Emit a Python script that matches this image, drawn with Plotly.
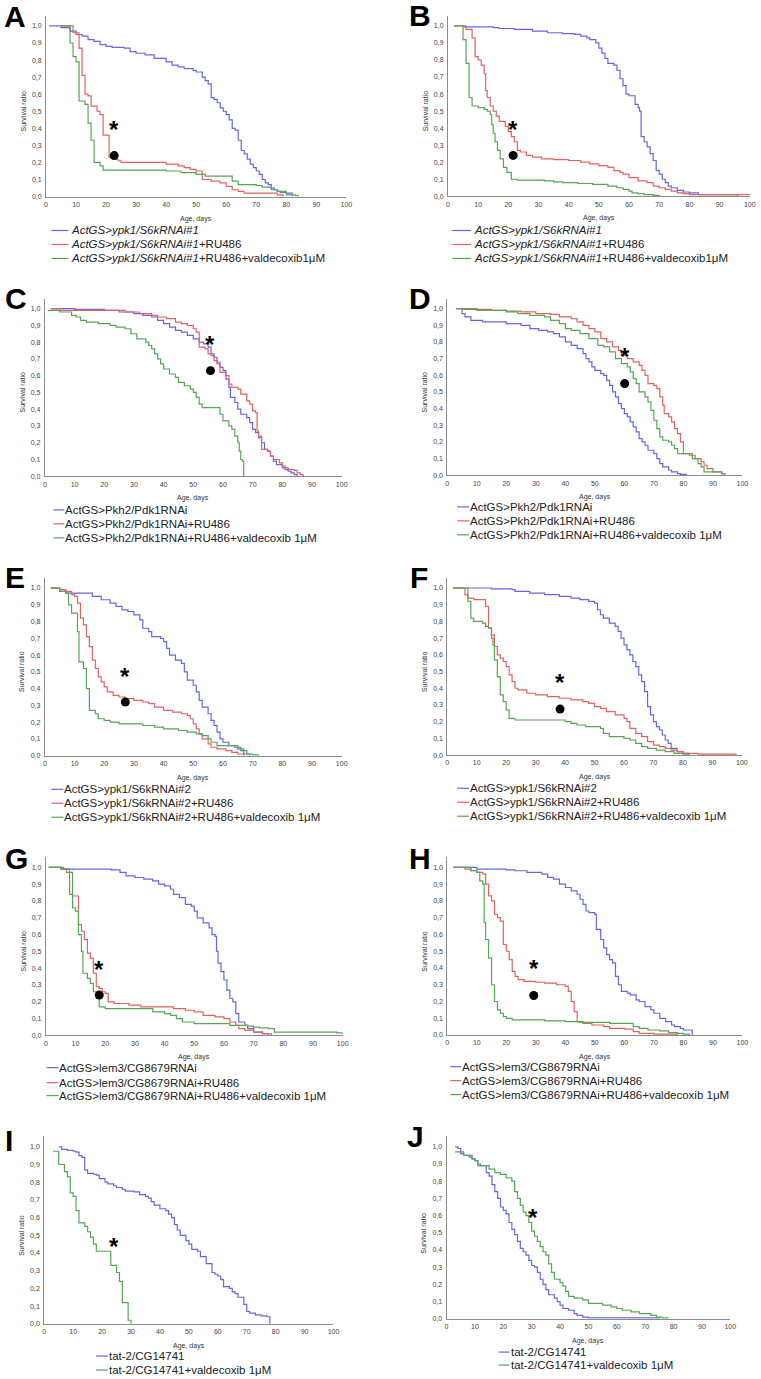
import plotly.graph_objects as go

W, H = 761, 1379
FONT = "Liberation Sans, Arial, sans-serif"
BLUE = "#6666e4"
RED = "#e46262"
GREEN = "#56a656"

# ---------------- data: (day, survival ratio) step points ----------------
A_ctrl = [(1,1.0),(5,0.99),(8,0.97),(10,0.95),(12,0.94),(14,0.92),(16,0.91),(18,0.89),(20,0.88),(22,0.875),(26,0.87),(28,0.85),(30,0.84),(33,0.83),(36,0.81),(40,0.79),(42,0.77),(44,0.76),(46,0.75),(49,0.74),(50,0.73),(52,0.70),(53,0.68),(54,0.66),(55,0.58),(56,0.57),(57,0.55),(58,0.52),(59,0.50),(60,0.48),(61,0.45),(62,0.40),(63,0.39),(64,0.33),(65,0.27),(66,0.25),(67,0.22),(68,0.19),(69,0.17),(70,0.15),(71,0.13),(72,0.10),(73,0.08),(74,0.07),(75,0.05),(76,0.04),(77,0.03),(78,0.025),(80,0.02),(82,0.0)]
A_ru = [(5,1.0),(9,0.96),(11,0.87),(12,0.71),(13,0.60),(14,0.59),(15,0.53),(17,0.50),(18,0.48),(19,0.36),(21,0.23),(23,0.22),(24,0.21),(25,0.20),(35,0.20),(40,0.19),(44,0.18),(46,0.17),(48,0.16),(50,0.15),(52,0.10),(55,0.09),(58,0.08),(60,0.06),(62,0.04),(64,0.03),(66,0.02),(77,0.01),(79,0.0)]
A_vald = [(5,1.0),(8,0.90),(9,0.82),(10,0.79),(11,0.56),(13,0.54),(14,0.43),(15,0.33),(16,0.20),(18,0.18),(19,0.155),(40,0.15),(45,0.14),(50,0.13),(53,0.12),(62,0.09),(64,0.07),(70,0.065),(72,0.055),(75,0.04),(77,0.03),(80,0.01),(83,0.005),(84,0.0)]

B_ctrl = [(5,0.995),(15,0.99),(17,0.985),(22,0.98),(28,0.97),(33,0.96),(38,0.955),(42,0.95),(44,0.94),(46,0.93),(47,0.92),(49,0.90),(50,0.87),(51,0.84),(52,0.81),(53,0.78),(55,0.77),(56,0.74),(57,0.69),(58,0.65),(59,0.60),(60,0.59),(62,0.54),(63,0.52),(63.5,0.50),(64,0.35),(65,0.32),(66,0.29),(67,0.25),(68,0.21),(69,0.15),(70,0.13),(71,0.10),(72,0.08),(73,0.06),(74,0.05),(76,0.035),(78,0.025),(80,0.02),(83,0.01),(96,0.0)]
B_ru = [(2,1.0),(6,0.98),(8,0.93),(9,0.82),(10,0.80),(11,0.77),(12,0.72),(12.5,0.62),(13,0.58),(14,0.53),(15,0.50),(16,0.47),(17,0.44),(19,0.41),(20,0.38),(21,0.35),(22,0.32),(23,0.27),(24,0.26),(26,0.24),(28,0.23),(31,0.22),(35,0.215),(40,0.21),(44,0.20),(47,0.19),(50,0.18),(53,0.17),(55,0.15),(57,0.14),(58,0.13),(60,0.11),(63,0.09),(66,0.08),(68,0.06),(70,0.05),(72,0.04),(74,0.03),(76,0.02),(78,0.015),(80,0.01),(100,0.01)]
B_vald = [(2,1.0),(5,0.92),(6,0.78),(7,0.58),(8,0.53),(10,0.52),(12,0.51),(13,0.50),(14,0.48),(14.5,0.42),(15,0.37),(15.6,0.32),(16.4,0.27),(17.3,0.22),(18.4,0.17),(19.5,0.14),(21,0.10),(23,0.095),(30,0.095),(32,0.09),(35,0.085),(38,0.08),(43,0.075),(48,0.07),(53,0.06),(56,0.05),(58,0.04),(60,0.03),(61,0.02),(63,0.015),(65,0.01),(68,0.005),(70,0.0)]

C_ctrl = [(2,1.0),(10,0.995),(20,0.99),(25,0.98),(30,0.97),(33,0.96),(36,0.95),(38,0.93),(40,0.91),(42,0.89),(44,0.87),(46,0.86),(48,0.84),(50,0.82),(52,0.80),(53.5,0.79),(55,0.77),(56,0.73),(57,0.71),(58,0.68),(59,0.65),(60,0.63),(61,0.58),(62,0.53),(62.5,0.47),(64,0.44),(65,0.40),(66,0.37),(68,0.35),(69,0.32),(70,0.28),(71,0.26),(72,0.23),(73,0.20),(74,0.16),(75,0.15),(76,0.12),(77,0.09),(78,0.07),(80,0.05),(81,0.04),(82,0.03),(83,0.02),(84,0.01),(85,0.0)]
C_ru = [(2,1.0),(5,0.99),(20,0.99),(27,0.98),(32,0.97),(36,0.96),(38,0.95),(41,0.94),(44,0.92),(46,0.91),(48,0.90),(50,0.88),(51,0.86),(52,0.77),(54,0.76),(55,0.73),(56,0.72),(57,0.69),(58,0.67),(59,0.62),(61,0.60),(62,0.55),(63,0.53),(65,0.52),(66,0.49),(68,0.45),(69,0.43),(70,0.39),(71,0.38),(71.5,0.27),(72,0.24),(73,0.16),(75,0.15),(76,0.12),(77,0.10),(79,0.08),(80,0.06),(81,0.05),(82,0.04),(84,0.035),(85,0.02),(86,0.01),(87,0.0)]
C_vald = [(1,0.99),(5,0.98),(9,0.96),(10.5,0.95),(12,0.93),(14,0.92),(18,0.91),(22,0.90),(24,0.89),(27,0.88),(29,0.85),(31,0.82),(34,0.80),(35,0.78),(36,0.76),(37,0.73),(38,0.70),(39,0.67),(40,0.64),(42,0.61),(44,0.59),(45,0.56),(47,0.54),(49,0.52),(50,0.50),(51,0.47),(52,0.43),(53,0.41),(59,0.37),(60,0.33),(62,0.30),(63,0.28),(64,0.24),(65,0.20),(65.5,0.15),(66,0.10),(66.5,0.09),(67,0.0)]

D_ctrl = [(3,1.0),(5,0.97),(6,0.95),(8,0.93),(12,0.92),(20,0.91),(25,0.90),(28,0.88),(31,0.87),(34,0.86),(36,0.85),(38,0.83),(40,0.80),(42,0.78),(44,0.76),(46,0.73),(47,0.70),(48,0.68),(49,0.65),(50,0.63),(52,0.61),(53,0.60),(54,0.57),(55,0.54),(56,0.50),(57,0.47),(58,0.43),(59,0.40),(60,0.37),(61,0.35),(62,0.32),(63,0.29),(64,0.26),(65,0.22),(66,0.20),(67,0.18),(68,0.15),(70,0.13),(71,0.10),(72,0.07),(73,0.05),(75,0.03),(76,0.02),(78,0.01),(79,0.005),(81,0.0)]
D_ru = [(3,1.0),(5,0.995),(15,0.99),(20,0.985),(25,0.98),(30,0.97),(35,0.965),(38,0.95),(42,0.94),(44,0.92),(46,0.90),(48,0.88),(50,0.86),(52,0.82),(54,0.80),(56,0.77),(58,0.75),(59,0.72),(61,0.70),(63,0.68),(65,0.66),(66,0.63),(67,0.60),(68,0.55),(70,0.54),(71,0.52),(72,0.47),(73,0.42),(73.5,0.37),(75,0.35),(76,0.32),(77,0.28),(78,0.25),(79,0.20),(80,0.13),(82,0.12),(84,0.10),(86,0.08),(87,0.06),(88,0.04),(90,0.02),(93,0.01),(94,0.0)]
D_vald = [(3,1.0),(10,0.99),(20,0.98),(24,0.97),(28,0.96),(33,0.95),(35,0.93),(38,0.91),(40,0.88),(42,0.87),(45,0.85),(48,0.82),(51,0.78),(53,0.77),(55,0.74),(57,0.70),(59,0.67),(61,0.65),(62,0.62),(63,0.58),(64,0.55),(65,0.50),(67,0.47),(68,0.44),(69,0.39),(70,0.33),(71,0.28),(72,0.23),(73,0.21),(75,0.20),(76,0.18),(77,0.16),(78,0.13),(83,0.10),(85,0.07),(86,0.05),(87,0.02),(93,0.01),(94,0.0)]

E_ctrl = [(2,1.0),(5,0.98),(7,0.97),(16,0.95),(19,0.93),(22,0.91),(24,0.89),(26,0.87),(28,0.86),(30,0.84),(32,0.81),(33,0.76),(35,0.74),(36,0.71),(39,0.70),(40,0.68),(41,0.64),(42,0.60),(44,0.57),(46,0.55),(47,0.50),(48,0.45),(50,0.42),(51,0.38),(52,0.33),(53,0.29),(55,0.25),(56,0.21),(57,0.18),(58,0.14),(59,0.10),(60,0.08),(62,0.06),(64,0.05),(65,0.04),(66,0.03),(67,0.01),(69,0.0)]
E_ru = [(2,1.0),(5,0.99),(7,0.98),(9,0.96),(10,0.95),(11,0.91),(12,0.82),(13,0.78),(14,0.71),(15,0.65),(16,0.57),(17,0.52),(18,0.47),(19,0.44),(20,0.41),(21,0.38),(23,0.36),(25,0.35),(27,0.34),(30,0.33),(33,0.32),(35,0.31),(37,0.29),(40,0.27),(43,0.26),(46,0.25),(48,0.24),(49,0.22),(50,0.19),(51,0.16),(52,0.13),(53,0.10),(55,0.07),(56,0.05),(58,0.04),(61,0.03),(63,0.02),(65,0.01),(67,0.0)]
E_vald = [(2,1.0),(5,0.98),(7,0.97),(8,0.90),(9,0.85),(11,0.74),(11.5,0.56),(13,0.52),(14,0.40),(15,0.27),(17,0.25),(18,0.22),(20,0.21),(22,0.20),(25,0.19),(33,0.18),(37,0.17),(40,0.16),(45,0.15),(48,0.14),(51,0.13),(53,0.12),(55,0.10),(56,0.08),(58,0.06),(65,0.05),(66,0.04),(67,0.03),(68,0.01),(70,0.005),(72,0.0)]

F_ctrl = [(2,1.0),(15,0.995),(22,0.99),(23,0.98),(28,0.97),(33,0.96),(38,0.95),(42,0.94),(45,0.93),(48,0.92),(50,0.91),(51,0.87),(52,0.84),(53,0.82),(55,0.79),(57,0.77),(58,0.74),(59,0.70),(60,0.66),(61,0.63),(62,0.60),(63,0.56),(64,0.53),(65,0.48),(66,0.44),(67,0.38),(68,0.29),(69,0.24),(70,0.20),(71,0.17),(72,0.15),(73,0.12),(74,0.09),(75,0.07),(76,0.04),(78,0.02),(80,0.01),(82,0.0)]
F_ru = [(2,1.0),(6,0.96),(7,0.94),(9,0.93),(13,0.89),(14,0.76),(15,0.72),(16,0.65),(17,0.60),(18,0.58),(19,0.56),(20,0.53),(21,0.48),(22,0.44),(23,0.40),(24,0.39),(27,0.37),(30,0.36),(34,0.35),(38,0.34),(42,0.33),(46,0.32),(48,0.31),(50,0.29),(52,0.28),(54,0.26),(57,0.24),(60,0.22),(61,0.20),(62,0.16),(64,0.13),(66,0.11),(68,0.08),(70,0.06),(72,0.05),(74,0.04),(76,0.03),(78,0.02),(80,0.01),(85,0.005),(98,0.0)]
F_vald = [(2,1.0),(7,0.92),(8,0.82),(9,0.80),(12,0.79),(13,0.77),(14,0.76),(15,0.70),(15.5,0.66),(16,0.57),(17,0.47),(18,0.36),(19,0.32),(20,0.27),(21,0.22),(23,0.21),(40,0.20),(42,0.19),(44,0.18),(47,0.17),(52,0.16),(53,0.13),(55,0.11),(60,0.10),(62,0.09),(64,0.07),(66,0.05),(68,0.04),(71,0.03),(74,0.02),(77,0.01),(80,0.005),(82,0.0)]

G_ctrl = [(1,1.0),(5,0.99),(22,0.985),(25,0.97),(27,0.95),(30,0.94),(33,0.93),(36,0.92),(38,0.90),(40,0.89),(42,0.87),(43,0.84),(45,0.82),(47,0.78),(49,0.77),(50,0.74),(51,0.70),(53,0.67),(55,0.64),(56,0.60),(57,0.59),(57.5,0.50),(58,0.43),(59,0.38),(60,0.33),(61,0.27),(62,0.22),(63,0.20),(64,0.13),(65,0.08),(67,0.06),(68,0.04),(70,0.02),(73,0.01),(75,0.0)]
G_ru = [(1,1.0),(6,0.99),(7,0.97),(8,0.84),(9,0.83),(11,0.66),(12,0.62),(13,0.57),(14,0.49),(15,0.46),(16,0.37),(17,0.29),(18,0.28),(19,0.26),(20,0.25),(21,0.20),(23,0.19),(28,0.18),(32,0.17),(40,0.17),(43,0.16),(47,0.15),(50,0.14),(53,0.12),(57,0.11),(60,0.10),(62,0.08),(64,0.06),(65,0.04),(67,0.03),(70,0.02),(73,0.01),(76,0.0)]
G_vald = [(1,1.0),(5,0.99),(8,0.97),(9,0.76),(10,0.74),(11,0.60),(12,0.50),(12.5,0.37),(14,0.34),(15,0.31),(16,0.26),(17,0.22),(18,0.17),(20,0.16),(35,0.16),(36,0.14),(40,0.13),(42,0.12),(44,0.10),(46,0.08),(50,0.07),(62,0.06),(68,0.055),(70,0.05),(72,0.045),(75,0.04),(77,0.02),(96,0.02),(98,0.015),(100,0.01)]

H_ctrl = [(2,1.0),(10,0.99),(20,0.985),(23,0.98),(27,0.97),(32,0.96),(34,0.94),(36,0.93),(38,0.90),(40,0.88),(42,0.86),(44,0.84),(45,0.81),(46,0.78),(47,0.74),(48,0.73),(50,0.72),(50.5,0.63),(52,0.57),(53,0.52),(54,0.48),(55,0.45),(56,0.43),(57,0.35),(58,0.30),(59,0.26),(61,0.25),(62,0.24),(64,0.21),(65,0.20),(67,0.17),(69,0.15),(70,0.13),(72,0.10),(74,0.08),(76,0.06),(77,0.05),(79,0.04),(80,0.03),(83,0.0)]
H_ru = [(2,1.0),(6,0.99),(8,0.98),(10,0.97),(12,0.96),(13,0.90),(14,0.83),(15,0.80),(16,0.72),(17,0.70),(18,0.68),(19,0.54),(20,0.50),(21,0.45),(22,0.38),(23,0.35),(24,0.33),(26,0.32),(30,0.315),(33,0.31),(37,0.30),(40,0.29),(41,0.26),(42,0.20),(43,0.14),(44,0.08),(46,0.07),(49,0.06),(53,0.05),(55,0.04),(60,0.035),(63,0.02),(65,0.01),(70,0.005),(78,0.0)]
H_vald = [(2,1.0),(8,0.98),(10,0.97),(11,0.92),(12,0.90),(12.5,0.67),(13,0.57),(14,0.46),(15,0.30),(16,0.20),(17,0.15),(18,0.13),(19,0.11),(20,0.10),(22,0.09),(33,0.085),(40,0.08),(45,0.075),(55,0.07),(63,0.05),(65,0.04),(68,0.03),(72,0.025),(75,0.015),(78,0.01),(80,0.005),(82,0.0)]

I_ctrl = [(5,1.0),(6,0.985),(8,0.98),(10,0.975),(11,0.97),(12,0.95),(13,0.94),(14,0.87),(15,0.85),(17,0.845),(18,0.84),(19,0.82),(21,0.80),(22,0.79),(24,0.78),(25,0.77),(27,0.76),(28,0.75),(31,0.745),(33,0.73),(35,0.72),(36,0.71),(37,0.69),(38,0.67),(40,0.65),(42,0.64),(43,0.62),(44,0.60),(45,0.56),(46,0.53),(47,0.50),(49,0.47),(50,0.45),(51,0.42),(53,0.41),(54,0.38),(56,0.34),(58,0.29),(59,0.28),(60,0.27),(61,0.25),(62,0.21),(64,0.20),(65,0.18),(66,0.17),(67,0.15),(69,0.11),(70,0.07),(71,0.06),(73,0.05),(75,0.045),(77,0.04),(78,0.0)]
I_vald = [(3,0.975),(5,0.90),(7,0.86),(8,0.83),(9,0.74),(10,0.72),(11,0.64),(12,0.57),(14,0.55),(15,0.52),(16,0.49),(17,0.45),(18,0.41),(23,0.33),(25,0.29),(26,0.24),(27,0.12),(29,0.02),(30,0.0)]

J_ctrl = [(3,1.0),(4,0.99),(5,0.96),(6,0.95),(8,0.94),(9,0.93),(10,0.92),(11,0.90),(12,0.89),(14,0.85),(15,0.83),(16,0.78),(17,0.74),(18,0.70),(19,0.65),(20,0.63),(21,0.61),(22,0.56),(23,0.52),(24,0.49),(25,0.45),(26,0.41),(27,0.39),(28,0.37),(29,0.34),(30,0.31),(31,0.30),(32,0.27),(33,0.23),(34,0.20),(35,0.17),(36,0.14),(38,0.12),(39,0.10),(40,0.08),(41,0.06),(43,0.05),(45,0.03),(46,0.02),(48,0.01),(50,0.005),(75,0.0)]
J_vald = [(3,0.97),(6,0.95),(9,0.93),(10,0.92),(11,0.89),(15,0.87),(17,0.85),(19,0.84),(21,0.82),(23,0.80),(24,0.74),(25,0.70),(26,0.66),(27,0.62),(28,0.60),(29,0.56),(30,0.51),(31,0.48),(32,0.45),(33,0.42),(34,0.39),(35,0.37),(36,0.32),(37,0.27),(38,0.23),(40,0.21),(41,0.19),(42,0.16),(43,0.13),(45,0.12),(48,0.11),(50,0.09),(55,0.08),(58,0.07),(60,0.06),(62,0.05),(65,0.04),(68,0.03),(72,0.02),(74,0.01),(76,0.005),(78,0.0)]

# significance marks (day, survival)
stars = {"A": (22.7, 0.43), "B": (21.6, 0.43), "C": (55.8, 0.82), "D": (60.1, 0.75), "E": (27.1, 0.51),
         "F": (38.3, 0.47), "G": (18.0, 0.43), "H": (29.3, 0.43), "I": (24.2, 0.47), "J": (30.5, 0.625)}
dots = {"A": (22.7, 0.24), "B": (21.6, 0.24), "C": (55.8, 0.63), "D": (60.1, 0.55), "E": (27.1, 0.32),
        "F": (38.3, 0.275), "G": (18.0, 0.24), "H": (29.3, 0.236)}

x_ticks = list(range(0, 101, 10))
y_ticks = [i / 10 for i in range(11)]
y_ticktext = [f"{v:.1f}".replace(".", ",") for v in y_ticks]

L1 = "<i>ActGS&gt;ypk1/S6kRNAi#1</i>"
names_A = [L1, L1 + "+RU486", L1 + "+RU486+valdecoxib1μM"]
L2 = "ActGS&gt;Pkh2/Pdk1RNAi"
names_C = [L2, L2 + "+RU486", L2 + "+RU486+valdecoxib 1μM"]
L3 = "ActGS&gt;ypk1/S6kRNAi#2"
names_E = [L3, L3 + "+RU486", L3 + "+RU486+valdecoxib 1μM"]
L4 = "ActGS&gt;lem3/CG8679RNAi"
names_G = [L4, L4 + "+RU486", L4 + "+RU486+valdecoxib 1μM"]
L5 = "tat-2/CG14741"
names_I = [L5, L5 + "+valdecoxib 1μM"]

# layout per panel (pixel geometry)
panels = [
    dict(k="A", s=[A_ctrl, A_ru, A_vald], c=[BLUE, RED, GREEN], n=names_A, box=(44.5, 348, 197, 26),
         leg=(50, 67, 69, [231, 245, 259]), let=(0, 15)),
    dict(k="B", s=[B_ctrl, B_ru, B_vald], c=[BLUE, RED, GREEN], n=names_A, box=(450.7, 755.7, 196.7, 26),
         leg=(455, 474, 476, [231, 245, 259]), let=(409, 14)),
    dict(k="C", s=[C_ctrl, C_ru, C_vald], c=[BLUE, RED, GREEN], n=names_C, box=(43.3, 343.3, 477.3, 309.3),
         leg=(52, 63, 63, [511, 525, 539]), let=(1, 297)),
    dict(k="D", s=[D_ctrl, D_ru, D_vald], c=[BLUE, RED, GREEN], n=names_C, box=(450, 748.3, 476.3, 309.3),
         leg=(460, 472, 472, [508, 522, 536]), let=(409, 297)),
    dict(k="E", s=[E_ctrl, E_ru, E_vald], c=[BLUE, RED, GREEN], n=names_E, box=(43.3, 343.3, 757.3, 589.3),
         leg=(50, 62, 62, [791, 805, 819]), let=(1, 577)),
    dict(k="F", s=[F_ctrl, F_ru, F_vald], c=[BLUE, RED, GREEN], n=names_E, box=(450, 747.7, 756.7, 589.3),
         leg=(460, 472, 472, [790, 804, 818]), let=(410, 577)),
    dict(k="G", s=[G_ctrl, G_ru, G_vald], c=[BLUE, RED, GREEN], n=names_G, box=(44.3, 344.3, 1037.7, 869.3),
         leg=(45, 57, 57, [1070, 1085, 1098]), let=(1, 858)),
    dict(k="H", s=[H_ctrl, H_ru, H_vald], c=[BLUE, RED, GREEN], n=names_G, box=(450, 748.3, 1037.3, 869.3),
         leg=(453, 464, 464, [1069, 1083, 1097]), let=(409, 858)),
    dict(k="I", s=[I_ctrl, I_vald], c=[BLUE, GREEN], n=names_I, box=(42.7, 335, 1326.7, 1149.3),
         leg=(95, 107, 107, [1359, 1373]), let=(1, 1141)),
    dict(k="J", s=[J_ctrl, J_vald], c=[BLUE, GREEN], n=names_I, box=(449.3, 736, 1321.7, 1149.3),
         leg=(502, 513, 513, [1355, 1368]), let=(407, 1137)),
]

YMAX = 1.06


def px(x):
    return x / W


def py(y):
    return 1 - y / H


fig = go.Figure()
shapes, annos = [], []
layout = dict(width=W, height=H, margin=dict(l=0, r=0, t=0, b=0), paper_bgcolor="white",
              plot_bgcolor="white", showlegend=False, font=dict(family=FONT, color="#333"))

for i, p in enumerate(panels):
    idx = "" if i == 0 else str(i + 1)
    xa, ya = "x" + idx, "y" + idx
    x0, x100, y0, y1 = p["box"]
    ytop = y0 - YMAX * (y0 - y1)
    axis_common = dict(showline=True, linecolor="#8c8c8c", linewidth=1, showgrid=False, zeroline=False,
                       ticks="", tickfont=dict(size=7, color="#444", family=FONT), fixedrange=True)
    layout["xaxis" + idx] = dict(axis_common, domain=[px(x0), px(x100)], range=[0, 100], anchor=ya,
                                 tickvals=x_ticks, ticklabelstandoff=1)
    layout["yaxis" + idx] = dict(axis_common, domain=[py(y0), py(ytop)], range=[0, YMAX], anchor=xa,
                                 tickvals=y_ticks, ticktext=y_ticktext, ticklabelstandoff=2)
    for ser, col in zip(p["s"], p["c"]):
        fig.add_trace(go.Scatter(x=[d for d, _ in ser], y=[v for _, v in ser], mode="lines",
                                 line=dict(color=col, width=1.2, shape="hv"), xaxis=xa, yaxis=ya,
                                 hoverinfo="skip"))
    k = p["k"]
    sx, sy = stars[k]
    annos.append(dict(x=sx, y=sy, xref=xa, yref=ya, text="<b>*</b>", showarrow=False,
                      xanchor="center", yanchor="middle",
                      font=dict(size=24, color="black", family=FONT), yshift=-6))
    if k in dots:
        dx, dy = dots[k]
        fig.add_trace(go.Scatter(x=[dx], y=[dy], mode="markers", xaxis=xa, yaxis=ya, hoverinfo="skip",
                                 marker=dict(color="black", size=9)))
    # axis titles
    annos.append(dict(x=px((x0 + x100) / 2), y=py(y0 + 22), xref="paper", yref="paper", text="Age, days",
                      showarrow=False, xanchor="center", yanchor="middle",
                      font=dict(size=7, color="#333", family=FONT)))
    annos.append(dict(x=px(x0 - 23), y=py((y0 + y1) / 2), xref="paper", yref="paper", text="Survival ratio",
                      showarrow=False, textangle=-90, xanchor="center", yanchor="middle",
                      font=dict(size=7, color="#333", family=FONT)))
    # panel letter
    lx, ly = p["let"]
    annos.append(dict(x=px(lx), y=py(ly + 2), xref="paper", yref="paper", text=f"<b>{k}</b>", showarrow=False,
                      xanchor="left", yanchor="middle", font=dict(size=30, color="black", family=FONT)))
    # legend
    lx0, lx1, tx, rows = p["leg"]
    for name, col, ry in zip(p["n"], p["c"], rows):
        shapes.append(dict(type="line", xref="paper", yref="paper", x0=px(lx0), x1=px(lx1), y0=py(ry), y1=py(ry),
                           line=dict(color=col, width=1.2)))
        annos.append(dict(x=px(tx), y=py(ry), xref="paper", yref="paper", text=name, showarrow=False,
                          xanchor="left", yanchor="middle", borderpad=0,
                          font=dict(size=11.5, color="#222", family=FONT)))

layout["shapes"] = shapes
layout["annotations"] = annos
fig.update_layout(**layout)
fig.write_html("out.html", config={"displayModeBar": False},
               post_script="document.body.style.margin='0';document.body.style.overflow='hidden';")
